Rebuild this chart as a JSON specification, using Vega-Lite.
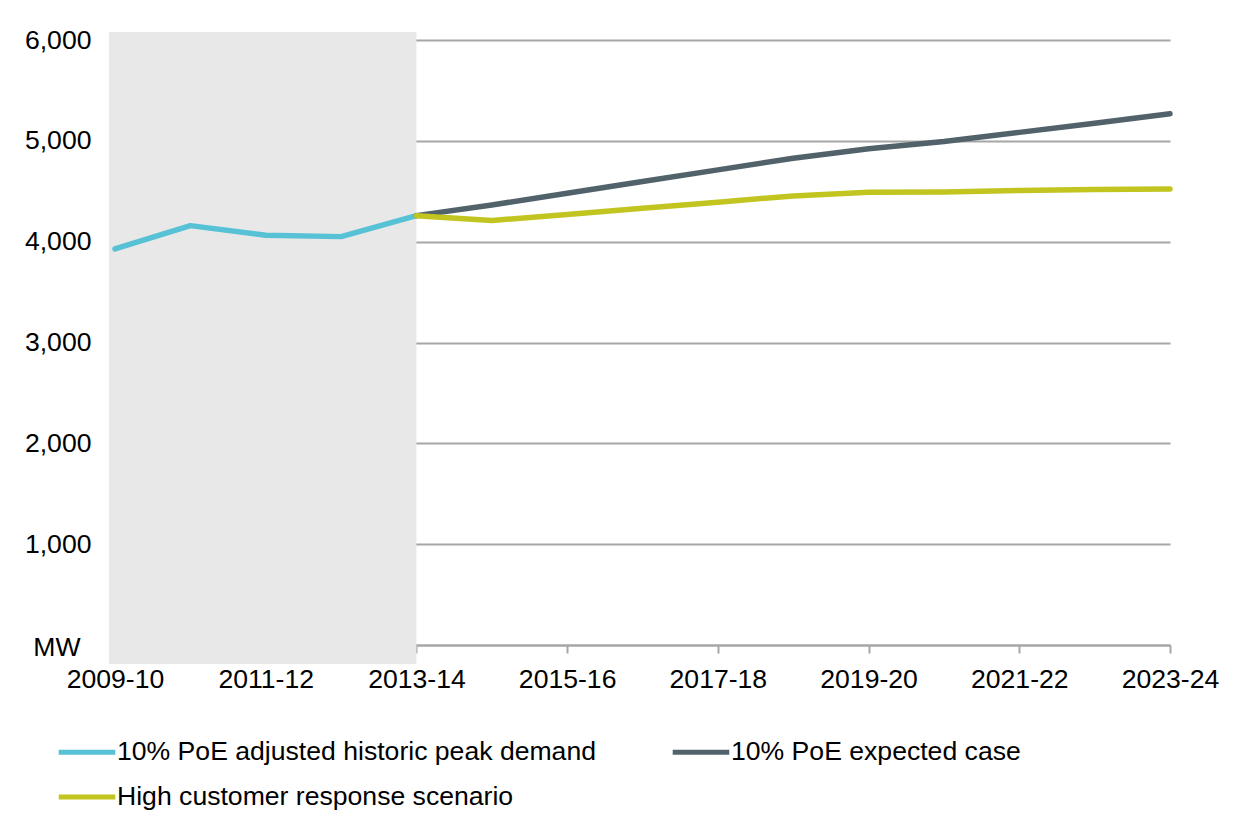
{
  "$schema": "https://vega.github.io/schema/vega-lite/v6.json",
  "width": 1055,
  "height": 605,
  "autosize": {"type": "none"},
  "padding": {"left": 115, "top": 40, "right": 82, "bottom": 182},
  "background": "white",
  "config": {
    "view": {"stroke": null},
    "font": "Liberation Sans",
    "axis": {
      "labelFont": "Liberation Sans",
      "labelFontSize": 26.6,
      "labelColor": "#000000",
      "titleFont": "Liberation Sans",
      "titleFontSize": 26.6,
      "titleFontWeight": "normal",
      "titleColor": "#000000",
      "gridColor": "#a6a6a6",
      "gridWidth": 2,
      "domainColor": "#a6a6a6",
      "domainWidth": 2,
      "tickColor": "#a6a6a6",
      "tickWidth": 2
    },
    "legend": {
      "labelFont": "Liberation Sans",
      "labelFontSize": 26.6,
      "labelColor": "#000000"
    }
  },
  "datasets": {
    "shade": [
      {"start": 2008.92, "end": 2013, "lo": -188, "hi": 6080}
    ],
    "series": [
      {"year": 2009, "series": "10% PoE adjusted historic peak demand", "mw": 3928},
      {"year": 2010, "series": "10% PoE adjusted historic peak demand", "mw": 4159},
      {"year": 2011, "series": "10% PoE adjusted historic peak demand", "mw": 4063},
      {"year": 2012, "series": "10% PoE adjusted historic peak demand", "mw": 4050},
      {"year": 2013, "series": "10% PoE adjusted historic peak demand", "mw": 4258},
      {"year": 2013, "series": "10% PoE expected case", "mw": 4258},
      {"year": 2014, "series": "10% PoE expected case", "mw": 4364},
      {"year": 2015, "series": "10% PoE expected case", "mw": 4480},
      {"year": 2016, "series": "10% PoE expected case", "mw": 4596},
      {"year": 2017, "series": "10% PoE expected case", "mw": 4712},
      {"year": 2018, "series": "10% PoE expected case", "mw": 4828},
      {"year": 2019, "series": "10% PoE expected case", "mw": 4921},
      {"year": 2020, "series": "10% PoE expected case", "mw": 4993},
      {"year": 2021, "series": "10% PoE expected case", "mw": 5084},
      {"year": 2022, "series": "10% PoE expected case", "mw": 5175},
      {"year": 2023, "series": "10% PoE expected case", "mw": 5268},
      {"year": 2013, "series": "High customer response scenario", "mw": 4258},
      {"year": 2014, "series": "High customer response scenario", "mw": 4209},
      {"year": 2015, "series": "High customer response scenario", "mw": 4270},
      {"year": 2016, "series": "High customer response scenario", "mw": 4331},
      {"year": 2017, "series": "High customer response scenario", "mw": 4392},
      {"year": 2018, "series": "High customer response scenario", "mw": 4454},
      {"year": 2019, "series": "High customer response scenario", "mw": 4490},
      {"year": 2020, "series": "High customer response scenario", "mw": 4493},
      {"year": 2021, "series": "High customer response scenario", "mw": 4507},
      {"year": 2022, "series": "High customer response scenario", "mw": 4517},
      {"year": 2023, "series": "High customer response scenario", "mw": 4523}
    ]
  },
  "layer": [
    {
      "data": {"name": "shade"},
      "mark": {"type": "rect", "color": "#e8e8e8"},
      "encoding": {
        "x": {
          "field": "start",
          "type": "quantitative",
          "scale": {"domain": [2009, 2023], "nice": false, "zero": false},
          "axis": {
            "title": null,
            "values": [2009, 2011, 2013, 2015, 2017, 2019, 2021, 2023],
            "labelExpr": "datum.value + '-' + slice(toString(datum.value + 1), 2)",
            "labelFlush": false,
            "labelOverlap": false,
            "grid": false,
            "tickSize": 8,
            "labelPadding": 13
          }
        },
        "x2": {"field": "end"},
        "y": {
          "field": "lo",
          "type": "quantitative",
          "scale": {"domain": [0, 6000], "nice": false},
          "axis": {
            "title": "MW",
            "titleAngle": 0,
            "titleAlign": "right",
            "titleBaseline": "middle",
            "titleX": -35,
            "titleY": 607,
            "values": [0, 1000, 2000, 3000, 4000, 5000, 6000],
            "labelExpr": "datum.value == 0 ? '' : format(datum.value, ',')",
            "labelFlush": false,
            "domain": false,
            "ticks": false,
            "tickSize": 0,
            "labelPadding": 24
          }
        },
        "y2": {"field": "hi"}
      }
    },
    {
      "data": {"name": "series"},
      "mark": {"type": "line", "strokeWidth": 5.5, "strokeCap": "round", "strokeJoin": "round"},
      "encoding": {
        "x": {"field": "year", "type": "quantitative", "title": null},
        "y": {"field": "mw", "type": "quantitative", "title": "MW"},
        "color": {
          "field": "series",
          "type": "nominal",
          "scale": {
            "domain": ["10% PoE adjusted historic peak demand", "10% PoE expected case", "High customer response scenario"],
            "range": ["#57c1d5", "#52626b", "#c2c520"]
          },
          "legend": {
            "title": null,
            "orient": "none",
            "legendX": -59,
            "legendY": 681,
            "direction": "horizontal",
            "columns": 2,
            "symbolType": "stroke",
            "symbolSize": 3200,
            "symbolStrokeWidth": 5,
            "labelOffset": -1,
            "columnPadding": 66,
            "rowPadding": -2,
            "labelLimit": 800
          }
        }
      }
    }
  ]
}
